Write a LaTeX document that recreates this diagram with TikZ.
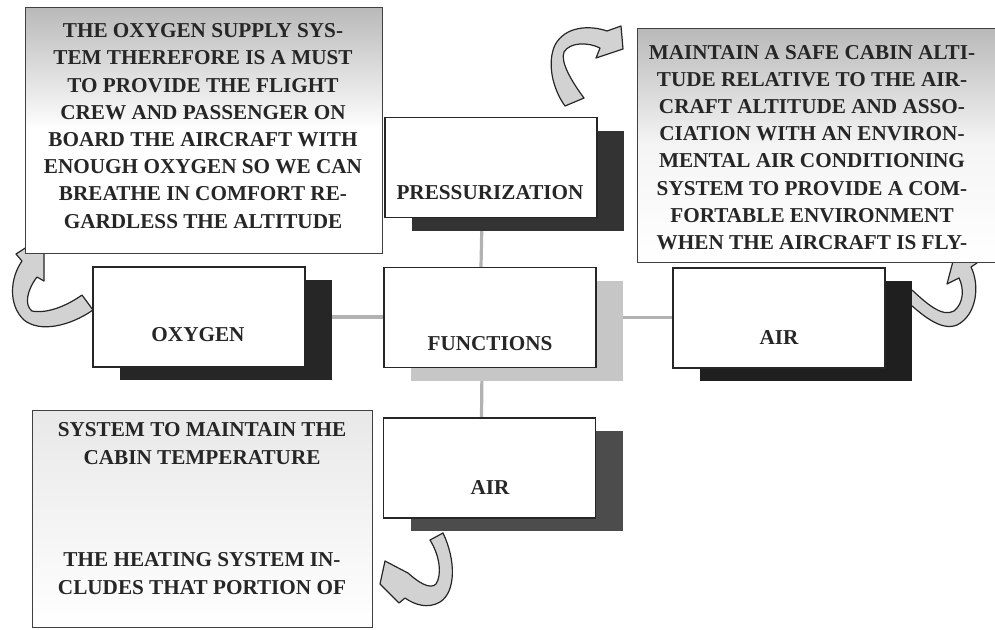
\documentclass[tikz,border=0pt]{standalone}
\usepackage{fontspec}
\setmainfont{Liberation Serif}
\usetikzlibrary{shadows,backgrounds}

\begin{document}
\begin{tikzpicture}[
  x=0.5pt,y=-0.5pt,
  fnbox/.style={draw=black!85,line width=0.6pt,fill=white,minimum width=106pt,minimum height=50pt,inner sep=0pt,
    drop shadow={shadow xshift=13.5pt,shadow yshift=-6.5pt,fill=#1,opacity=1}},
  fnlbl/.style={font=\bfseries\fontsize{10.6}{13}\selectfont,text=black!85,inner sep=1pt},
  notebox/.style={draw=black!75,line width=0.5pt,inner sep=0pt},
  notetxt/.style={font=\bfseries\fontsize{10.6}{13.6}\selectfont,text=black!85,align=center,inner sep=1pt},
  link/.style={draw=gray!60,line width=1.6pt},
  bendarrow/.style={draw=black!85,fill=gray!35,line width=0.6pt,line join=round}
]
  \useasboundingbox (0,0) rectangle (995,629);

  % --- note boxes ---
  \node[notebox,minimum width=178.5pt,minimum height=123pt,top color=gray!55,bottom color=white,middle color=white] (oxynote) at (203.5,130) {};
  \node[notetxt] (oxytxt) at (203,126) {THE OXYGEN SUPPLY SYS-\\TEM THEREFORE IS A MUST\\TO PROVIDE THE FLIGHT\\CREW AND PASSENGER ON\\BOARD THE AIRCRAFT WITH\\ENOUGH OXYGEN SO WE CAN\\BREATHE IN COMFORT RE-\\GARDLESS THE ALTITUDE};

  \node[notebox,minimum width=181.5pt,minimum height=117pt,top color=gray!55,bottom color=white,middle color=white!92!gray] (presnote) at (818.5,145) {};
  \node[notetxt] (prestxt) at (812,147.5) {MAINTAIN A SAFE CABIN ALTI-\\TUDE RELATIVE TO THE AIR-\\CRAFT ALTITUDE AND ASSO-\\CIATION WITH AN ENVIRON-\\MENTAL AIR CONDITIONING\\SYSTEM TO PROVIDE A COM-\\FORTABLE ENVIRONMENT\\WHEN THE AIRCRAFT IS FLY-};

  \node[notebox,minimum width=170pt,minimum height=108.5pt,top color=gray!18,bottom color=white] (heatnote) at (202,518.5) {};
  \node[notetxt,font=\bfseries\fontsize{10.6}{14}\selectfont] (heattxt) at (202,508.5) {SYSTEM TO MAINTAIN THE\\CABIN TEMPERATURE\\[37pt]THE HEATING SYSTEM IN-\\CLUDES THAT PORTION OF};

  % --- function boxes ---
  \node[fnbox=black!80] (pres) at (491,167.5) {};
  \node[fnbox=black!85] (oxy)  at (199,317)   {};
  \node[fnbox=gray!45]  (func) at (490,317.5) {};
  \node[fnbox=black!88] (airr) at (779,318)   {};
  \node[fnbox=black!70] (airb) at (489.5,468) {};

  \node[fnlbl] (presl) at (490,193) {PRESSURIZATION};
  \node[fnlbl] (oxyl)  at (198,335) {OXYGEN};
  \node[fnlbl] (funcl) at (490,344) {FUNCTIONS};
  \node[fnlbl] (airrl) at (779,337) {AIR};
  \node[fnlbl] (airbl) at (490,487) {AIR};

  \begin{pgfonlayer}{background}
    % --- links ---
    \draw[link] (oxy.east) -- (oxy.east -| func.west);
    \draw[link] (func.east) -- (func.east -| airr.west);
    \draw[link] ([xshift=-4.5pt]pres.south) -- ([xshift=-4.5pt]func.north);
    \draw[link] ([xshift=-4pt]func.south) -- ([xshift=-4pt]airb.north);

    % --- curved arrows ---
    \draw[bendarrow] (82,295) -- (93,310)
      .. controls (70,326) and (40,333) .. (24,320)
      .. controls (8,305) and (10,278) .. (22,261)
      -- (16,254) -- (44,236) -- (44,281) -- (37,277)
      .. controls (27,290) and (24,305) .. (32,311)
      .. controls (48,314) and (68,305) .. (82,295) -- cycle;
    \draw[bendarrow] (565,106) -- (584,98)
      .. controls (572,82) and (560,62) .. (564,52)
      .. controls (570,42) and (588,42) .. (600,48)
      -- (596,58) -- (623,49) -- (621,26) -- (607,31)
      .. controls (590,25) and (565,26) .. (555,45)
      .. controls (547,62) and (552,88) .. (565,106) -- cycle;
    \draw[bendarrow] (903,298) -- (912,290)
      .. controls (925,302) and (942,318) .. (954,311)
      .. controls (964,303) and (964,288) .. (959,278)
      -- (947,284) -- (957,246) -- (977,263) -- (971,267)
      .. controls (980,285) and (977,315) .. (957,325)
      .. controls (940,332) and (920,313) .. (903,298) -- cycle;
    \draw[bendarrow] (430,540) -- (443,533)
      .. controls (456,560) and (456,592) .. (440,602)
      .. controls (428,609) and (415,605) .. (405,598)
      -- (399,603) -- (380,584) -- (385,561) -- (408,573)
      .. controls (418,582) and (430,590) .. (436,584)
      .. controls (442,575) and (440,556) .. (430,540) -- cycle;
  \end{pgfonlayer}
\end{tikzpicture}
\end{document}
